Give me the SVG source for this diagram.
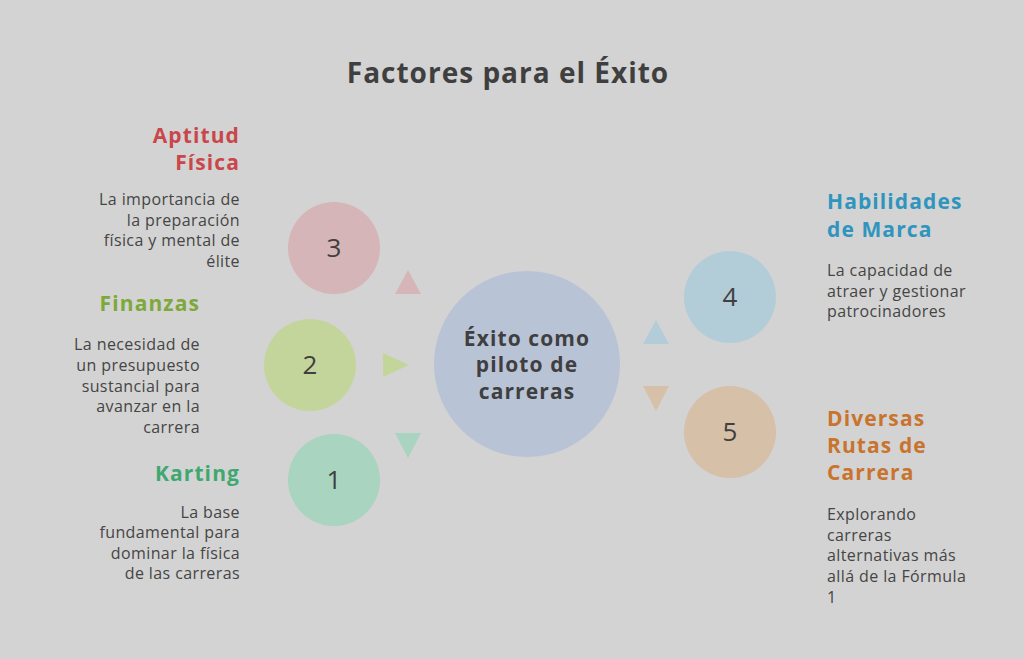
<svg xmlns="http://www.w3.org/2000/svg" width="1024" height="659" viewBox="0 0 1024 659">
<style>
text{font-family:"Open Sans","Liberation Sans",sans-serif;}
.title{font-size:28px;font-weight:700;fill:#3f3f3f;text-anchor:middle;letter-spacing:1px;}
.head{font-size:21px;font-weight:700;letter-spacing:1.1px;}
.desc{font-size:16px;fill:#454545;letter-spacing:0.4px;}
.num{font-size:26px;fill:#404040;text-anchor:middle;}
.ctr{font-size:21px;font-weight:700;fill:#3f3f3f;text-anchor:middle;letter-spacing:1.1px;}
.r{text-anchor:end;}
.l{text-anchor:start;}
</style>
<rect width="1024" height="659" fill="#d3d3d3"/>
<text class="title" x="508" y="83">Factores para el Éxito</text>

<g id="center">
<circle cx="527" cy="364" r="93" fill="#b9c3d6"/>
<text class="ctr" x="527" y="346">Éxito como</text>
<text class="ctr" x="527" y="372">piloto de</text>
<text class="ctr" x="527" y="399">carreras</text>
</g>

<g id="connectors">
<polygon points="408,270 421,294 395,294" fill="#d5b5b7"/>
<polygon points="383,353 409,365 383,377" fill="#c4d59c"/>
<polygon points="395,433 421,433 408,458" fill="#a8d4c0"/>
<polygon points="656,320 669,344 643,344" fill="#b3cdd8"/>
<polygon points="643,386 669,386 656,411" fill="#d6c0a8"/>
</g>

<g id="node3">
<circle cx="334" cy="248" r="46" fill="#d5b5b7"/>
<text class="num" x="334" y="257">3</text>
<text class="head r" x="240" y="143" fill="#c9474a">Aptitud</text>
<text class="head r" x="240" y="170" fill="#c9474a">Física</text>
<text class="desc r" x="240" y="205">La importancia de</text>
<text class="desc r" x="240" y="226">la preparación</text>
<text class="desc r" x="240" y="246">física y mental de</text>
<text class="desc r" x="240" y="267">élite</text>
</g>

<g id="node2">
<circle cx="310" cy="365" r="46" fill="#c4d59c"/>
<text class="num" x="310" y="374">2</text>
<text class="head r" x="200" y="311" fill="#7ea83a">Finanzas</text>
<text class="desc r" x="200" y="350">La necesidad de</text>
<text class="desc r" x="200" y="371">un presupuesto</text>
<text class="desc r" x="200" y="392">sustancial para</text>
<text class="desc r" x="200" y="412">avanzar en la</text>
<text class="desc r" x="200" y="433">carrera</text>
</g>

<g id="node1">
<circle cx="334" cy="480" r="46" fill="#a8d4c0"/>
<text class="num" x="334" y="489">1</text>
<text class="head r" x="240" y="481" fill="#3fa870">Karting</text>
<text class="desc r" x="240" y="518">La base</text>
<text class="desc r" x="240" y="538">fundamental para</text>
<text class="desc r" x="240" y="559">dominar la física</text>
<text class="desc r" x="240" y="579">de las carreras</text>
</g>

<g id="node4">
<circle cx="730" cy="297" r="46" fill="#b3cdd8"/>
<text class="num" x="730" y="306">4</text>
<text class="head l" x="827" y="209" fill="#2f95bf">Habilidades</text>
<text class="head l" x="827" y="237" fill="#2f95bf">de Marca</text>
<text class="desc l" x="827" y="276">La capacidad de</text>
<text class="desc l" x="827" y="297">atraer y gestionar</text>
<text class="desc l" x="827" y="317">patrocinadores</text>
</g>

<g id="node5">
<circle cx="730" cy="432" r="46" fill="#d6c0a8"/>
<text class="num" x="730" y="441">5</text>
<text class="head l" x="827" y="426" fill="#c8742e">Diversas</text>
<text class="head l" x="827" y="453" fill="#c8742e">Rutas de</text>
<text class="head l" x="827" y="480" fill="#c8742e">Carrera</text>
<text class="desc l" x="827" y="520">Explorando</text>
<text class="desc l" x="827" y="541">carreras</text>
<text class="desc l" x="827" y="561">alternativas más</text>
<text class="desc l" x="827" y="582">allá de la Fórmula</text>
<text class="desc l" x="827" y="603">1</text>
</g>
</svg>
